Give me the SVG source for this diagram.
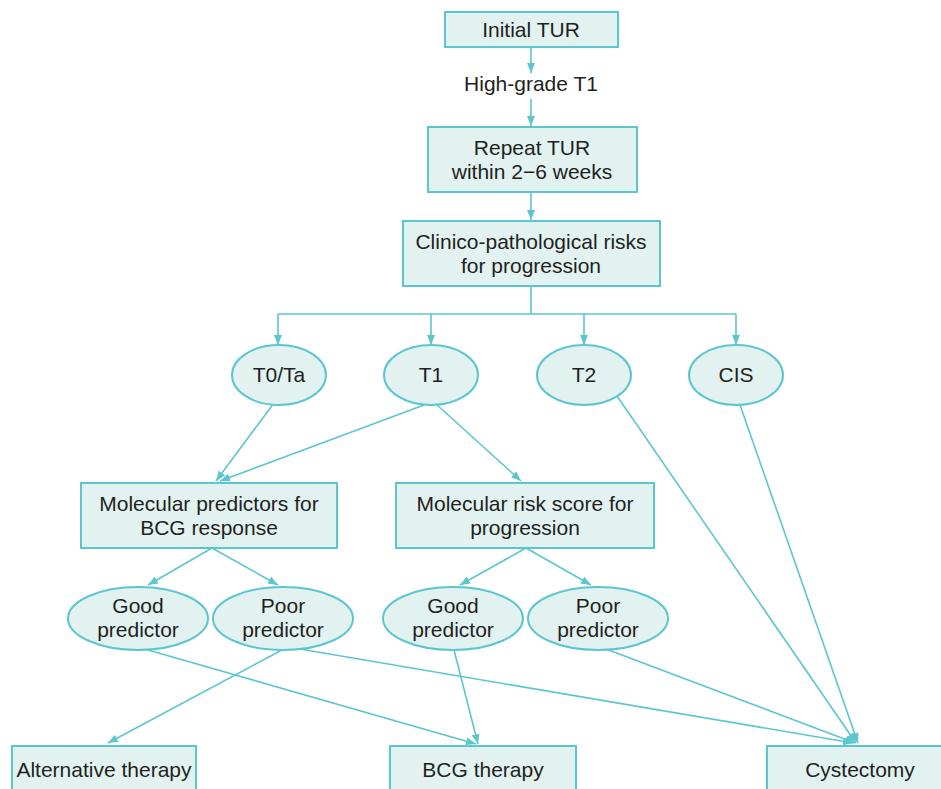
<svg xmlns="http://www.w3.org/2000/svg" width="941" height="789" viewBox="0 0 941 789">
<defs>
<style>
.box{fill:#e2f2f1;stroke:#5cc6d0;stroke-width:2}
.t{font-family:"Liberation Sans",Arial,sans-serif;font-size:21px;fill:#231f20;text-anchor:middle}
.c{stroke:#5cc6d0;stroke-width:1.6;fill:none}
.a{marker-end:url(#ah)}
</style>
<marker id="ah" markerUnits="userSpaceOnUse" markerWidth="10" markerHeight="8" refX="10" refY="4" orient="auto">
<path d="M0,0 L10,4 L0,8 z" fill="#5cc6d0"/>
</marker>
</defs>
<rect width="941" height="789" fill="#ffffff"/>
<g id="connectors">
<line class="c a" x1="531" y1="47" x2="531" y2="73"/>
<line class="c a" x1="531" y1="99" x2="531" y2="126"/>
<line class="c a" x1="531" y1="192" x2="531" y2="220"/>
<path class="c" d="M531,286 V314 M278,314 H736"/>
<line class="c a" x1="278" y1="314" x2="278" y2="345"/>
<line class="c a" x1="431" y1="314" x2="431" y2="345"/>
<line class="c a" x1="584" y1="314" x2="584" y2="345"/>
<line class="c a" x1="736" y1="314" x2="736" y2="345"/>
<line class="c a" x1="274" y1="403" x2="216" y2="481"/>
<line class="c a" x1="424" y1="405" x2="220" y2="481"/>
<line class="c a" x1="436" y1="404" x2="521" y2="481"/>
<line class="c a" x1="617" y1="396" x2="856" y2="743"/>
<line class="c a" x1="739" y1="402" x2="858" y2="743"/>
<line class="c a" x1="212" y1="548" x2="148" y2="585"/>
<line class="c a" x1="212" y1="548" x2="278" y2="585"/>
<line class="c a" x1="526" y1="548" x2="460" y2="585"/>
<line class="c a" x1="526" y1="548" x2="591" y2="585"/>
<line class="c a" x1="148" y1="650" x2="476" y2="744"/>
<line class="c a" x1="282" y1="650" x2="108" y2="743"/>
<line class="c a" x1="300" y1="649" x2="853" y2="743"/>
<line class="c a" x1="454" y1="650" x2="478" y2="744"/>
<line class="c a" x1="606" y1="649" x2="855" y2="743"/>
</g>
<g id="initial-tur"><rect class="box" x="445" y="12" width="173" height="35"/><text class="t" x="531" y="37">Initial TUR</text></g>
<g id="high-grade"><text class="t" x="531" y="91">High-grade T1</text></g>
<g id="repeat-tur"><rect class="box" x="428" y="127" width="209" height="65"/><text class="t" x="532" y="155">Repeat TUR</text><text class="t" x="532" y="179">within 2−6 weeks</text></g>
<g id="clinico"><rect class="box" x="403" y="221" width="257" height="65"/><text class="t" x="531" y="249">Clinico-pathological risks</text><text class="t" x="531" y="273">for progression</text></g>
<g id="t0ta"><ellipse class="box" cx="279" cy="375" rx="47" ry="30"/><text class="t" x="279" y="382">T0/Ta</text></g>
<g id="t1"><ellipse class="box" cx="431" cy="375" rx="47" ry="30"/><text class="t" x="431" y="382">T1</text></g>
<g id="t2"><ellipse class="box" cx="584" cy="375" rx="47" ry="30"/><text class="t" x="584" y="382">T2</text></g>
<g id="cis"><ellipse class="box" cx="736" cy="375" rx="47" ry="30"/><text class="t" x="736" y="382">CIS</text></g>
<g id="mol-pred"><rect class="box" x="81" y="483" width="256" height="65"/><text class="t" x="209" y="511">Molecular predictors for</text><text class="t" x="209" y="535">BCG response</text></g>
<g id="mol-risk"><rect class="box" x="396" y="483" width="258" height="65"/><text class="t" x="525" y="511">Molecular risk score for</text><text class="t" x="525" y="535">progression</text></g>
<g id="good-l"><ellipse class="box" cx="138" cy="618.5" rx="70" ry="31.5"/><text class="t" x="138" y="613">Good</text><text class="t" x="138" y="637">predictor</text></g>
<g id="poor-l"><ellipse class="box" cx="283" cy="618.5" rx="70" ry="31.5"/><text class="t" x="283" y="613">Poor</text><text class="t" x="283" y="637">predictor</text></g>
<g id="good-r"><ellipse class="box" cx="453" cy="618.5" rx="70" ry="31.5"/><text class="t" x="453" y="613">Good</text><text class="t" x="453" y="637">predictor</text></g>
<g id="poor-r"><ellipse class="box" cx="598" cy="618.5" rx="70" ry="31.5"/><text class="t" x="598" y="613">Poor</text><text class="t" x="598" y="637">predictor</text></g>
<g id="alt"><rect class="box" x="12" y="746" width="184" height="50"/><text class="t" x="104" y="777">Alternative therapy</text></g>
<g id="bcg"><rect class="box" x="390" y="746" width="186" height="50"/><text class="t" x="483" y="777">BCG therapy</text></g>
<g id="cyst"><rect class="box" x="767" y="746" width="184" height="50"/><text class="t" x="860" y="777">Cystectomy</text></g>
</svg>
